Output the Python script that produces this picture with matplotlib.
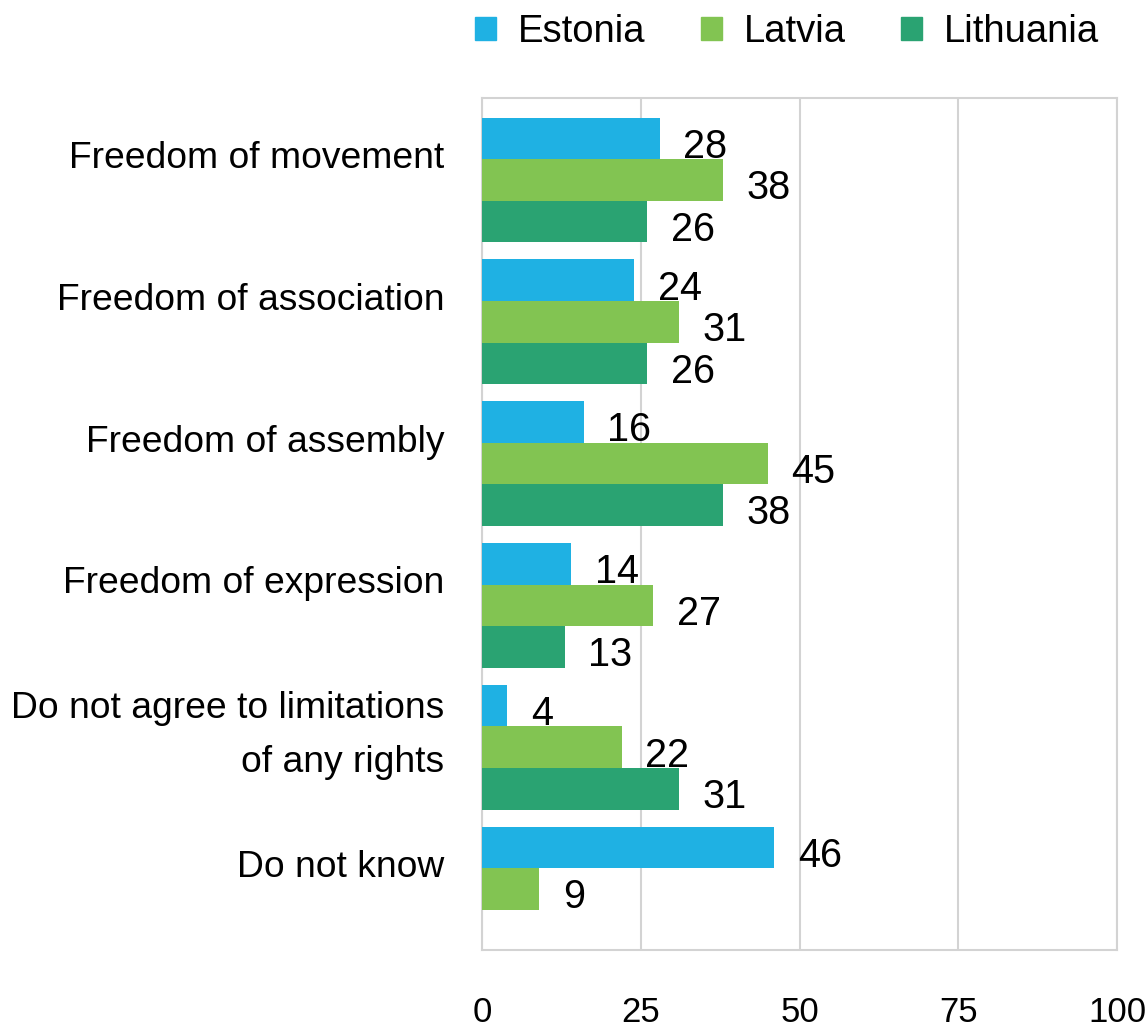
import matplotlib.pyplot as plt
import matplotlib.patches as mpatches
import numpy as np

plt.rcParams['font.family'] = ['Liberation Sans', 'DejaVu Sans']

# Survey answers, percent of respondents
categories = ['Freedom of movement', 'Freedom of association', 'Freedom of assembly',
              'Freedom of expression', 'Do not agree to limitations\nof any rights', 'Do not know']
countries = ['Estonia', 'Latvia', 'Lithuania']
estonia = [28, 24, 16, 14, 4, 46]
latvia = [38, 31, 45, 27, 22, 9]
lithuania = [26, 26, 38, 13, 31, np.nan]
x_ticks = [0, 25, 50, 75, 100]

colors = ['#1fb1e3', '#82c452', '#2aa372']
grid_color = '#d3d3d3'

fig = plt.figure(figsize=(11.46, 10.30), dpi=100)
ax = fig.add_axes([0.4206, 0.0777, 0.5541, 0.8272])

idx = np.arange(len(categories))
h = 0.293
series = [estonia, latvia, lithuania]
for j, (vals, col) in enumerate(zip(series, colors)):
    ypos = idx + (j - 1) * h
    ax.barh(ypos, vals, height=h, color=col, zorder=3)
    for y, v in zip(ypos, vals):
        if np.isnan(v):
            continue
        ax.annotate(f'{v:g}', xy=(v, y), xytext=(17, -6), textcoords='offset points',
                    ha='left', va='center', fontsize=28.5, color='black', zorder=4)

ax.set_xlim(0, 100)
ax.set_ylim(5.43, -0.578)
ax.set_xticks(x_ticks)
ax.set_xticklabels([str(t) for t in x_ticks], fontsize=25)
ax.set_yticks(idx - 0.18)
ax.set_yticklabels(categories, fontsize=26.8)
for lab in ax.get_yticklabels():
    lab.set_linespacing(1.72)
ax.tick_params(axis='x', length=0, pad=33)
ax.tick_params(axis='y', length=0, pad=27)

ax.grid(axis='x', color=grid_color, linewidth=1.5, zorder=0)
for spine in ax.spines.values():
    spine.set_color(grid_color)
    spine.set_linewidth(1.5)

handles = [mpatches.Patch(color=c, label=n) for c, n in zip(colors, countries)]
fig.legend(handles=handles, loc='center', bbox_to_anchor=(0.687, 0.969), ncol=3,
           frameon=False, fontsize=27.5, handlelength=0.55, handleheight=0.55,
           handletextpad=0.57, columnspacing=1.45)

fig.savefig('out.png', dpi=100)
